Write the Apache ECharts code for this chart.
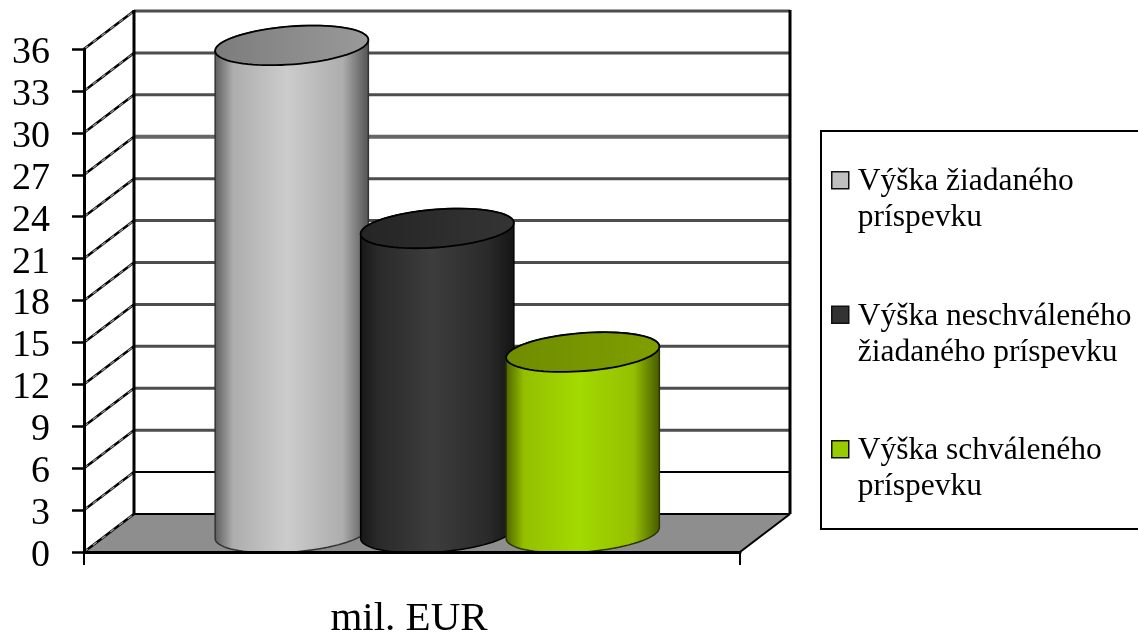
<!DOCTYPE html>
<html><head><meta charset="utf-8">
<style>html,body{margin:0;padding:0;background:#fff;overflow:hidden}#c{width:1138px;height:632px}</style>
<script src="https://cdn.jsdelivr.net/npm/echarts@6/dist/echarts.min.js"></script>
</head><body><div id="c"></div>
<script>
const seriesNames = ['Výška žiadaného\npríspevku','Výška neschváleného\nžiadaného príspevku','Výška schváleného\npríspevku'];
const seriesValues = [34.9, 21.8, 12.95];
const axisCategory = ['mil. EUR'];
const yTicks = [0,3,6,9,12,15,18,21,24,27,30,33,36];
const legendColors = ['#c0c0c0','#333333','#99cc00'];

const FONT = '"Liberation Serif","Times New Roman",serif';
const DX = 50, DY = -38;
const looks = [
  {edge:'#5c5c5c', mid1:'#adadad', mid:'#cccccc', top1:'#7c7c7c', top2:'#9a9a9a', line:'#333'},
  {edge:'#161616', mid1:'#2a2a2a', mid:'#3d3d3d', top1:'#252525', top2:'#343434', line:'#000'},
  {edge:'#4f6300', mid1:'#94bf00', mid:'#a3da00', top1:'#6f8c00', top2:'#7f9f00', line:'#2c3600'}
];

const chart = echarts.init(document.getElementById('c'), null, {renderer:'canvas'});

function ell(cx, cy, rx, ry, from, to, n){
  const th = -4.4*Math.PI/180, pts = [];
  for(let i=0;i<=n;i++){
    const t = from + (to-from)*i/n;
    pts.push([cx + rx*Math.cos(t)*Math.cos(th) - ry*Math.sin(t)*Math.sin(th),
              cy + rx*Math.cos(t)*Math.sin(th) + ry*Math.sin(t)*Math.cos(th)]);
  }
  return pts;
}
function floorItem(params, api){
  const c = api.coord([0,0]), w = api.size([1,0])[0];
  const L = c[0]-w/2, R = c[0]+w/2, y = c[1];
  return {type:'group', children:[
    {type:'polygon', shape:{points:[[L,y],[R,y],[R+DX,y+DY],[L+DX,y+DY]]}, style:{fill:'#8e8e8e'}},
    {type:'line', shape:{x1:R,y1:y,x2:R+DX,y2:y+DY}, style:{stroke:'#000',lineWidth:2}}
  ]};
}
function wallItem(params, api){
  const v = api.value(1), c = api.coord([0,v]), w = api.size([1,0])[0];
  const L = c[0]-w/2, R = c[0]+w/2, y = c[1];
  const low = v <= 3;
  return {type:'group', children:[
    {type:'line', shape:{x1:L+DX,y1:y+DY,x2:R+DX,y2:y+DY},
     style:{stroke: low?'#000':(v===27?'#666':'#4d4d4d'), lineWidth: low?2:(v===27?4:3)}},
    {type:'line', shape:{x1:L,y1:y,x2:L+DX,y2:y+DY}, style:{stroke:'#000',lineWidth:2.5}},
    {type:'line', shape:{x1:L,y1:y,x2:L+DX,y2:y+DY}, style:{stroke:'#9a9a9a',lineWidth:1.2,lineDash:[5,6]}}
  ]};
}
function wallFrame(params, api){
  const c0 = api.coord([0,0]), c1 = api.coord([0,36]), w = api.size([1,0])[0];
  const L = c0[0]-w/2+DX, R = c0[0]+w/2+DX;
  return {type:'group', children:[
    {type:'line', shape:{x1:L,y1:c0[1]+DY,x2:L,y2:c1[1]+DY-1}, style:{stroke:'#000',lineWidth:3}},
    {type:'line', shape:{x1:R,y1:c0[1]+DY,x2:R,y2:c1[1]+DY-1}, style:{stroke:'#000',lineWidth:3}}
  ]};
}
function cylinder(params, api){
  const i = api.value(0), top = api.coord([i, api.value(1)]), bot = api.coord([i,0]);
  const rx = api.size([1,0])[0]*0.528, ry = 19, k = looks[i];
  const body = ell(bot[0],bot[1],rx,ry,0,Math.PI,40).concat(ell(top[0],top[1],rx,ry,Math.PI,Math.PI*2,40));
  const lid = ell(top[0],top[1],rx,ry,0,Math.PI*2,80);
  const bodyFill = new echarts.graphic.LinearGradient(0,0,1,0,[
    {offset:0,color:k.edge},{offset:0.12,color:k.mid1},{offset:0.47,color:k.mid},
    {offset:0.83,color:k.mid1},{offset:0.98,color:k.edge},{offset:1,color:k.edge}]);
  const lidFill = new echarts.graphic.LinearGradient(0,0,1,0,[{offset:0,color:k.top1},{offset:1,color:k.top2}]);
  return {type:'group', children:[
    {type:'polygon', shape:{points:body}, style:{fill:bodyFill, stroke:k.line, lineWidth:1.5}},
    {type:'polygon', shape:{points:lid}, style:{fill:lidFill, stroke:'#000', lineWidth:1.8}}
  ]};
}

const hiddenY = {type:'value', min:0, max:36, interval:3, show:false};
chart.setOption({
  backgroundColor:'#fff',
  animation:false,
  graphic:[{type:'rect', z:0, shape:{x:821,y:131,width:340,height:398}, style:{fill:'#fff',stroke:'#000',lineWidth:2}}],
  grid:[
    {left:84, top:49, width:656, height:503, outerBoundsMode:'none'},
    {left:219, top:30, width:436.5, height:503, outerBoundsMode:'none'}
  ],
  xAxis:[
    {type:'category', gridIndex:0, data:axisCategory, z:10,
     axisLine:{show:true,lineStyle:{color:'#000',width:3}},
     axisTick:{show:true,length:13,lineStyle:{color:'#000',width:2}},
     axisLabel:{color:'#000',fontFamily:FONT,fontSize:41,margin:47,padding:[0,6,0,0]}},
    {type:'category', gridIndex:1, data:seriesNames, show:false}
  ],
  yAxis:[
    {type:'value', gridIndex:0, min:0, max:36, interval:3, z:10,
     axisLine:{show:true,lineStyle:{color:'#000',width:3}},
     axisTick:{show:true,length:12,lineStyle:{color:'#000',width:2.5}},
     splitLine:{show:false},
     axisLabel:{color:'#000',fontFamily:FONT,fontSize:38,margin:34,verticalAlign:'top',lineHeight:8}},
    Object.assign({gridIndex:1}, hiddenY)
  ],
  legend:{
    left:831, top:163, orient:'vertical', padding:0, itemGap:61, itemWidth:21, itemHeight:72,
    selectedMode:false,
    icon:'path://M0,0L0,0ZM0,8L17,8L17,25L0,25ZM21,72L21,72Z',
    textStyle:{color:'#000',fontFamily:FONT,fontSize:31.5,lineHeight:36},
    data:seriesNames.map((n,i)=>({name:n,itemStyle:{color:legendColors[i],borderColor:'#111',borderWidth:1.5}}))
  },
  series:[
    {type:'custom', name:'floor', xAxisIndex:0, yAxisIndex:0, z:1, silent:true, clip:false, renderItem:floorItem, data:[[0,0]]},
    {type:'custom', name:'wall', xAxisIndex:0, yAxisIndex:0, z:2, silent:true, clip:false, renderItem:wallItem, encode:{x:0,y:1}, data:yTicks.map(t=>[0,t])},
    {type:'custom', name:'frame', xAxisIndex:0, yAxisIndex:0, z:2, silent:true, clip:false, renderItem:wallFrame, data:[[0,0]]}
  ].concat(seriesNames.map((n,i)=>({
    type:'custom', name:n, xAxisIndex:1, yAxisIndex:1, z:3+i, clip:false, silent:true,
    renderItem:cylinder, encode:{x:0,y:1}, data:[[i,seriesValues[i]]]
  })))
});
</script></body></html>
